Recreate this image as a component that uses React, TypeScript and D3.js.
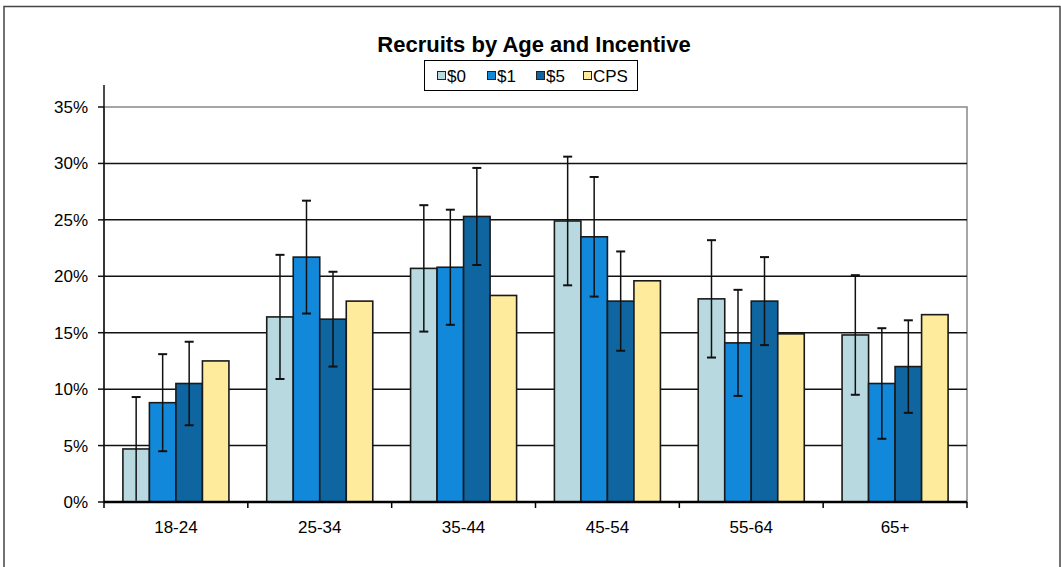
import React, { useEffect, useRef } from "react";
import * as d3 from "d3";

const ages = ["18-24", "25-34", "35-44", "45-54", "55-64", "65+"];
const seriesNames = ["$0", "$1", "$5", "CPS"];
const seriesColors = ["#b8d9e0", "#1288db", "#0f65a0", "#feeb9c"];

// percent of recruits in each age group
const pct0 = [4.7, 16.4, 20.7, 24.9, 18.0, 14.8];
const pct1 = [8.8, 21.7, 20.8, 23.5, 14.1, 10.5];
const pct5 = [10.5, 16.2, 25.3, 17.8, 17.8, 12.0];
const pctCPS = [12.5, 17.8, 18.3, 19.6, 14.9, 16.6];

// +/- error (percentage points), CPS has none
const err0 = [4.6, 5.5, 5.6, 5.7, 5.2, 5.3];
const err1 = [4.3, 5.0, 5.1, 5.3, 4.7, 4.9];
const err5 = [3.7, 4.2, 4.3, 4.4, 3.9, 4.1];
const errCPS = [null, null, null, null, null, null];

const yTicks = [0, 5, 10, 15, 20, 25, 30, 35];

const values = [pct0, pct1, pct5, pctCPS];
const errors = [err0, err1, err5, errCPS];

const W = 1061;
const H = 567;
const FONT = "'Liberation Sans', Arial, sans-serif";

const App: React.FC = () => {
  const ref = useRef<SVGSVGElement | null>(null);

  useEffect(() => {
    const svg = d3.select(ref.current);
    svg.selectAll("*").remove();
    svg.attr("width", W).attr("height", H);

    const left = 104;
    const right = 967;
    const top = 107;
    const bottom = 502;

    const x0 = d3.scaleBand<string>().domain(ages).range([left, right]);
    const x1 = d3
      .scaleBand<string>()
      .domain(seriesNames)
      .range([18.9, x0.bandwidth() - 18.9]);
    const y = d3.scaleLinear().domain([0, 35]).range([bottom, top]);

    // outer frame
    svg
      .append("rect")
      .attr("x", 4)
      .attr("y", 6.5)
      .attr("width", 1056)
      .attr("height", 600)
      .attr("fill", "#fff")
      .attr("stroke", "#444")
      .attr("stroke-width", 1.5);

    // title
    svg
      .append("text")
      .attr("x", 534)
      .attr("y", 52)
      .attr("text-anchor", "middle")
      .attr("font-family", FONT)
      .attr("font-weight", "bold")
      .attr("font-size", 22)
      .text("Recruits by Age and Incentive");

    // legend
    const lg = svg.append("g");
    lg.append("rect")
      .attr("x", 424.5)
      .attr("y", 60.5)
      .attr("width", 213)
      .attr("height", 30)
      .attr("fill", "#fff")
      .attr("stroke", "#000")
      .attr("stroke-width", 1);
    const legendX = [437, 487, 536, 583];
    seriesNames.forEach((s, i) => {
      lg.append("rect")
        .attr("x", legendX[i] + 0.5)
        .attr("y", 71.5)
        .attr("width", 8)
        .attr("height", 8)
        .attr("fill", seriesColors[i])
        .attr("stroke", "#222")
        .attr("stroke-width", 1);
      lg.append("text")
        .attr("x", legendX[i] + 10)
        .attr("y", 82)
        .attr("font-family", FONT)
        .attr("font-size", 17)
        .text(s);
    });

    // plot area border (gray)
    svg
      .append("rect")
      .attr("x", left)
      .attr("y", top)
      .attr("width", right - left)
      .attr("height", bottom - top)
      .attr("fill", "#fff")
      .attr("stroke", "#888")
      .attr("stroke-width", 1.5);

    // gridlines
    svg
      .append("g")
      .selectAll("line")
      .data(yTicks.filter((t) => t > 0 && t < 35))
      .enter()
      .append("line")
      .attr("x1", left)
      .attr("x2", right)
      .attr("y1", (d) => y(d))
      .attr("y2", (d) => y(d))
      .attr("stroke", "#111")
      .attr("stroke-width", 1.5);

    // bars
    const groups = svg
      .append("g")
      .selectAll("g")
      .data(ages)
      .enter()
      .append("g")
      .attr("transform", (d) => `translate(${x0(d)},0)`);

    seriesNames.forEach((s, si) => {
      groups
        .append("rect")
        .attr("x", x1(s)!)
        .attr("y", (d, gi) => y(values[si][gi]))
        .attr("width", x1.bandwidth())
        .attr("height", (d, gi) => y(0) - y(values[si][gi]))
        .attr("fill", seriesColors[si])
        .attr("stroke", "#1a1a1a")
        .attr("stroke-width", 1.6);
    });

    // error bars
    seriesNames.forEach((s, si) => {
      groups.each(function (d, gi) {
        const e = errors[si][gi];
        if (e == null) return;
        const v = values[si][gi];
        const cx = x1(s)! + x1.bandwidth() / 2;
        const g = d3.select(this);
        const lo = Math.max(0, v - e);
        const hi = v + e;
        g.append("line")
          .attr("x1", cx)
          .attr("x2", cx)
          .attr("y1", y(lo))
          .attr("y2", y(hi))
          .attr("stroke", "#111")
          .attr("stroke-width", 1.5);
        [lo, hi].forEach((val) => {
          if (val <= 0.5) return;
          g.append("line")
            .attr("x1", cx - 4.5)
            .attr("x2", cx + 4.5)
            .attr("y1", y(val))
            .attr("y2", y(val))
            .attr("stroke", "#111")
            .attr("stroke-width", 2);
        });
      });
    });

    // y axis
    const yAxis = svg.append("g");
    yAxis
      .append("line")
      .attr("x1", left)
      .attr("x2", left)
      .attr("y1", 85)
      .attr("y2", bottom)
      .attr("stroke", "#111")
      .attr("stroke-width", 1.5);
    yAxis
      .selectAll(".tick")
      .data(yTicks)
      .enter()
      .append("line")
      .attr("x1", left - 6)
      .attr("x2", left)
      .attr("y1", (d) => y(d))
      .attr("y2", (d) => y(d))
      .attr("stroke", "#111")
      .attr("stroke-width", 1.5);
    yAxis
      .selectAll("text")
      .data(yTicks)
      .enter()
      .append("text")
      .attr("x", 88)
      .attr("y", (d) => y(d) + 6)
      .attr("text-anchor", "end")
      .attr("font-family", FONT)
      .attr("font-size", 17)
      .text((d) => `${d}%`);

    // x axis
    const xAxis = svg.append("g");
    xAxis
      .append("line")
      .attr("x1", left)
      .attr("x2", right)
      .attr("y1", bottom)
      .attr("y2", bottom)
      .attr("stroke", "#000")
      .attr("stroke-width", 2.5);
    xAxis
      .selectAll(".tick")
      .data([...ages.map((a) => x0(a)!), right])
      .enter()
      .append("line")
      .attr("x1", (d) => d)
      .attr("x2", (d) => d)
      .attr("y1", bottom)
      .attr("y2", bottom + 6)
      .attr("stroke", "#000")
      .attr("stroke-width", 1.5);
    xAxis
      .selectAll("text")
      .data(ages)
      .enter()
      .append("text")
      .attr("x", (d) => x0(d)! + x0.bandwidth() / 2)
      .attr("y", 533)
      .attr("text-anchor", "middle")
      .attr("font-family", FONT)
      .attr("font-size", 17)
      .text((d) => d);
  }, []);

  return (
    <svg
      ref={ref}
      style={{ position: "absolute", left: 0, top: 0, display: "block" }}
    ></svg>
  );
};

export default App;
